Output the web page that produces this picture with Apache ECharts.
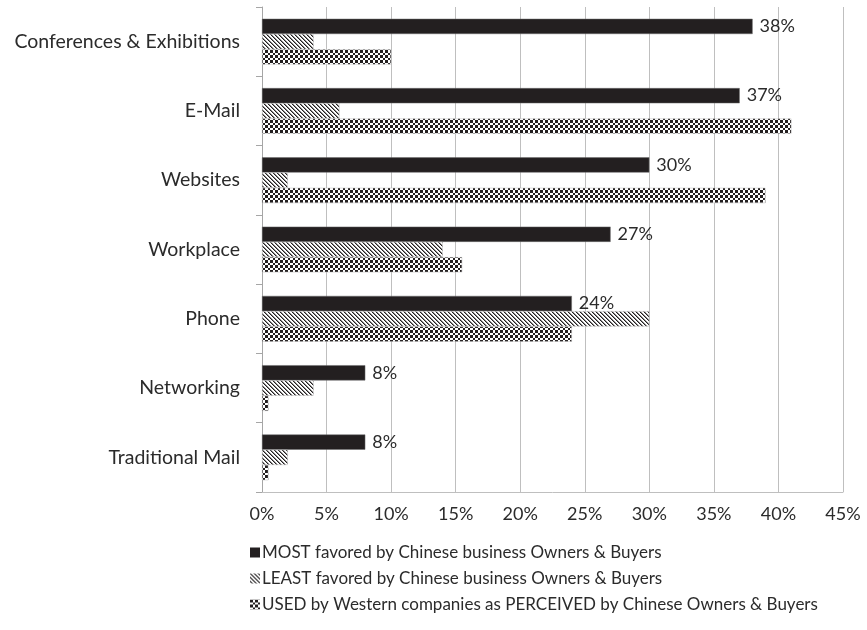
<!DOCTYPE html>
<html>
<head>
<meta charset="utf-8">
<script src="https://cdn.jsdelivr.net/npm/echarts@6/dist/echarts.min.js"></script>
<style>
  html, body { margin: 0; padding: 0; background: #fff; }
  #chart { width: 867px; height: 630px; }
</style>
</head>
<body>
<div id="chart"></div>
<script>
// Communication channels, top to bottom
const categories = [
  'Conferences & Exhibitions',
  'E-Mail',
  'Websites',
  'Workplace',
  'Phone',
  'Networking',
  'Traditional Mail'
];

const seriesNames = [
  'MOST favored by Chinese business Owners & Buyers',
  'LEAST favored by Chinese business Owners & Buyers',
  'USED by Western companies as PERCEIVED by Chinese Owners & Buyers'
];

// Percent of respondents
const mostFavored  = [38, 37, 30, 27, 24, 8, 8];
const leastFavored = [4, 6, 2, 14, 30, 4, 2];
const usedWestern  = [10, 41, 39, 15.5, 24, 0.5, 0.5];

const xTicks = { min: 0, max: 45, step: 5 };

const INK = '#231f20';
const TEXT = '#2b2b2b';
const FONT = 'Lato, "Open Sans", sans-serif';

// Diagonal hatching (top-left to bottom-right)
function hatchPattern() {
  const c = document.createElement('canvas');
  c.width = 4; c.height = 4;
  const g = c.getContext('2d');
  g.fillStyle = '#fff';
  g.fillRect(0, 0, 4, 4);
  for (let i = 0; i < 4; i++) {
    g.fillStyle = INK;
    g.fillRect(i, i, 1, 1);
    g.fillStyle = '#8a8a8a';
    g.fillRect((i + 1) % 4, i, 1, 1);
  }
  return { image: c, repeat: 'repeat' };
}

// Small checkerboard
function checkerPattern() {
  const c = document.createElement('canvas');
  c.width = 5; c.height = 5;
  const g = c.getContext('2d');
  g.fillStyle = '#fff';
  g.fillRect(0, 0, 5, 5);
  g.fillStyle = INK;
  g.fillRect(0, 0, 3, 3);
  g.fillRect(3, 3, 2, 2);
  return { image: c, repeat: 'repeat' };
}

const chart = echarts.init(document.getElementById('chart'), null, { renderer: 'canvas' });

const barBase = {
  type: 'bar',
  barGap: '0%',
  barCategoryGap: '34%',
  animation: false
};

chart.setOption({
  backgroundColor: '#fff',
  animation: false,
  textStyle: { fontFamily: FONT },
  grid: { left: 262, right: 24, top: 7, bottom: 138, containLabel: false },
  legend: {
    orient: 'vertical',
    left: 245,
    top: 539,
    itemWidth: 10,
    itemHeight: 10,
    itemGap: 9,
    icon: 'rect',
    itemStyle: { borderWidth: 0 },
    textStyle: { fontSize: 17, color: TEXT, fontFamily: FONT, padding: [0, 0, 0, -3] },
    data: seriesNames
  },
  xAxis: {
    type: 'value',
    min: xTicks.min,
    max: xTicks.max,
    interval: xTicks.step,
    axisLabel: { formatter: '{value}%', fontSize: 18, color: TEXT, margin: 13, fontFamily: FONT },
    axisLine: { show: true, lineStyle: { color: '#bfbfbf' } },
    axisTick: { show: false },
    splitLine: { show: true, lineStyle: { color: '#bfbfbf', width: 1 } }
  },
  yAxis: {
    type: 'category',
    inverse: true,
    data: categories,
    axisLabel: { fontSize: 19.5, color: TEXT, margin: 22, fontFamily: FONT },
    axisLine: { show: true, lineStyle: { color: '#a6a6a6' } },
    axisTick: { show: true, length: 6, lineStyle: { color: '#a6a6a6' } },
    splitLine: { show: false }
  },
  series: [
    Object.assign({}, barBase, {
      name: seriesNames[0],
      data: mostFavored,
      itemStyle: { color: INK, borderColor: '#6d6d6d', borderWidth: 0.5 },
      label: {
        show: true,
        position: 'right',
        distance: 7,
        formatter: '{c}%',
        fontSize: 18,
        color: TEXT,
        fontFamily: FONT
      }
    }),
    Object.assign({}, barBase, {
      name: seriesNames[1],
      data: leastFavored,
      itemStyle: { color: hatchPattern(), borderColor: '#bbb', borderWidth: 0.5 }
    }),
    Object.assign({}, barBase, {
      name: seriesNames[2],
      data: usedWestern,
      itemStyle: { color: checkerPattern(), borderColor: '#bbb', borderWidth: 0.5 }
    })
  ]
});
</script>
</body>
</html>
